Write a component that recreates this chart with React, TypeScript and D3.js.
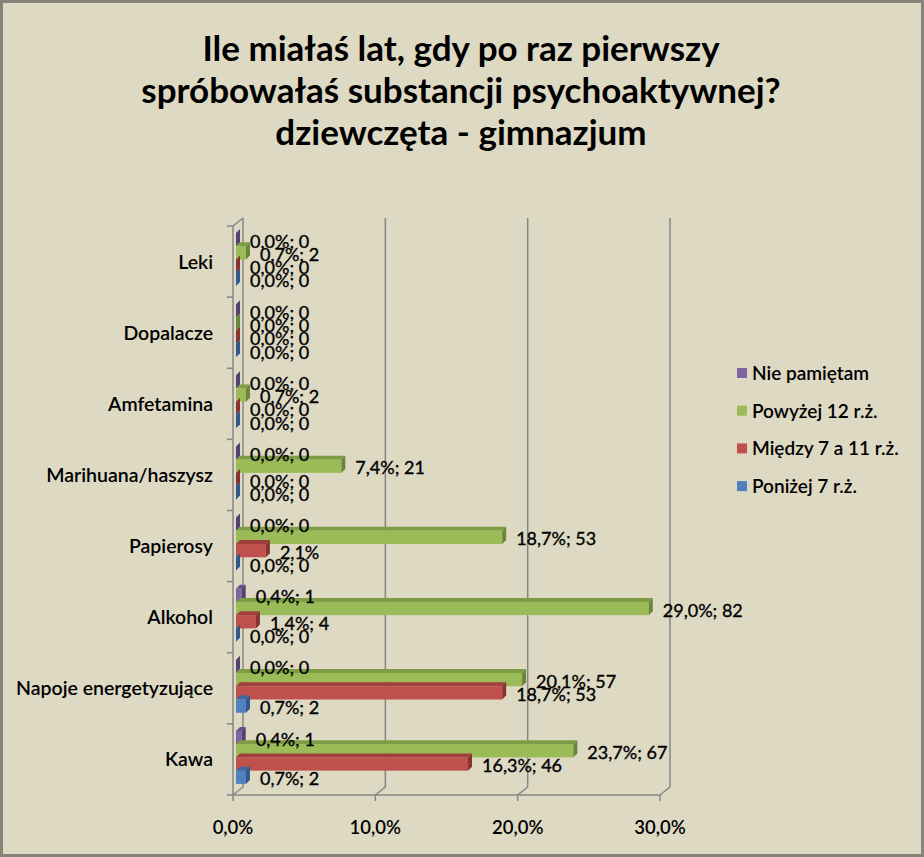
import React, { useEffect } from 'react';
import * as d3 from 'd3';

const W = 924;
const H = 857;

const titleLines = [
  'Ile miałaś lat, gdy po raz pierwszy',
  'spróbowałaś substancji psychoaktywnej?',
  'dziewczęta - gimnazjum',
];

const categories = [
  'Leki',
  'Dopalacze',
  'Amfetamina',
  'Marihuana/haszysz',
  'Papierosy',
  'Alkohol',
  'Napoje energetyzujące',
  'Kawa',
];

const seriesNames = ['Nie pamiętam', 'Powyżej 12 r.ż.', 'Między 7 a 11 r.ż.', 'Poniżej 7 r.ż.'];

// percent values per series, in category order
const niePamietamPct = [0.0, 0.0, 0.0, 0.0, 0.0, 0.4, 0.0, 0.4];
const niePamietamN = [0, 0, 0, 0, 0, 1, 0, 1];
const powyzej12Pct = [0.7, 0.0, 0.7, 7.4, 18.7, 29.0, 20.1, 23.7];
const powyzej12N = [2, 0, 2, 21, 53, 82, 57, 67];
const miedzy7a11Pct = [0.0, 0.0, 0.0, 0.0, 2.1, 1.4, 18.7, 16.3];
const miedzy7a11N = [0, 0, 0, 0, null, 4, 53, 46];
const ponizej7Pct = [0.0, 0.0, 0.0, 0.0, 0.0, 0.0, 0.7, 0.7];
const ponizej7N = [0, 0, 0, 0, 0, 0, 2, 2];

const xTicks = [0, 10, 20, 30];

const palette = [
  { front: '#8064a2', top: '#66508a', side: '#54416f' },
  { front: '#9bbb59', top: '#7e9c44', side: '#6a8638' },
  { front: '#c0504d', top: '#a03f3c', side: '#893331' },
  { front: '#4f81bd', top: '#3d69a0', side: '#32588a' },
];

const FONT = 'Lato, "Open Sans", sans-serif';
const fmt = (v: number) => v.toFixed(1).replace('.', ',') + '%';

export default function App() {
  useEffect(() => {
    document.body.style.margin = '0';
  }, []);

  const series = [
    { name: seriesNames[0], pct: niePamietamPct, n: niePamietamN },
    { name: seriesNames[1], pct: powyzej12Pct, n: powyzej12N },
    { name: seriesNames[2], pct: miedzy7a11Pct, n: miedzy7a11N },
    { name: seriesNames[3], pct: ponizej7Pct, n: ponizej7N },
  ];

  // front plane of the 3d plot
  const x = d3.scaleLinear().domain([0, 30]).range([233, 660]);
  const y = d3.scaleBand().domain(categories).range([226, 795]).paddingInner(0);
  const inner = d3.scaleBand().domain(seriesNames).range([7, 60]);
  const dx = 10; // wall depth
  const dy = -8;
  const bd = 4; // bar depth
  const bz = 3; // bar offset from front wall
  const wallTop = 218;
  const gridCol = '#868686';

  const bars: JSX.Element[] = [];
  const labels: JSX.Element[] = [];
  categories.forEach((c, ci) => {
    series.forEach((s, si) => {
      const v = s.pct[ci];
      const x0 = x(0) + bz;
      const x1 = x(v) + bz;
      const yt = (y(c) as number) + (inner(s.name) as number);
      const h = inner.bandwidth();
      const col = palette[si];
      bars.push(
        <g key={`b${ci}-${si}`}>
          <polygon
            points={`${x0},${yt} ${x0 + bd},${yt - bd} ${x1 + bd},${yt - bd} ${x1},${yt}`}
            fill={col.top}
          />
          <rect x={x0} y={yt} width={Math.max(0, x1 - x0)} height={h} fill={col.front} />
          <polygon
            points={`${x1},${yt} ${x1 + bd},${yt - bd} ${x1 + bd},${yt + h - bd} ${x1},${yt + h}`}
            fill={col.side}
          />
        </g>
      );
      const n = s.n[ci];
      const txt = n === null ? fmt(v) : `${fmt(v)}; ${n}`;
      labels.push(
        <text
          key={`l${ci}-${si}`}
          x={x(v) + 17}
          y={yt + h / 2 + 8}
          fontSize={18}
          fontFamily={FONT}
          fill="#000"
          stroke="#000"
          strokeWidth={0.35}
        >
          {txt}
        </text>
      );
    });
  });

  return (
    <div style={{ position: 'absolute', left: 0, top: 0 }}>
      <svg width={W} height={H} style={{ display: 'block' }}>
        <rect x={1.5} y={1.5} width={W - 3} height={H - 3} fill="#ddd9c3" stroke="#85847a" strokeWidth={3} />

        {titleLines.map((t, i) => (
          <text
            key={t}
            x={461}
            y={61 + i * 42}
            textAnchor="middle"
            fontSize={35}
            fontWeight={700}
            fontFamily={FONT}
            fill="#000"
          >
            {t}
          </text>
        ))}

        {/* back wall gridlines and floor lines */}
        {xTicks.map((t) => (
          <g key={`g${t}`} stroke={gridCol} strokeWidth={1.5} fill="none">
            <line x1={x(t) + dx} x2={x(t) + dx} y1={wallTop} y2={795 + dy} />
            <line x1={x(t)} y1={795} x2={x(t) + dx} y2={795 + dy} />
            <line x1={x(t)} x2={x(t)} y1={795} y2={801} />
          </g>
        ))}
        <g stroke={gridCol} strokeWidth={1.5} fill="none">
          <line x1={x(0)} x2={x(0)} y1={226} y2={795} />
          <line x1={x(0)} y1={226} x2={x(0) + dx} y2={wallTop} />
          <line x1={x(0)} x2={x(30)} y1={795} y2={795} />
          {[...categories.map((c) => y(c) as number), 795].map((v) => (
            <line key={`t${v}`} x1={x(0) - 6} x2={x(0)} y1={v} y2={v} />
          ))}
        </g>

        {bars}
        {labels}

        {categories.map((c) => (
          <text
            key={`c${c}`}
            x={213}
            y={(y(c) as number) + y.bandwidth() / 2 + 7}
            textAnchor="end"
            fontSize={19.5}
            fontWeight={600}
            fontFamily={FONT}
            fill="#000"
          >
            {c}
          </text>
        ))}

        {xTicks.map((t) => (
          <text
            key={`x${t}`}
            x={x(t)}
            y={834}
            textAnchor="middle"
            fontSize={18.5}
            fontWeight={600}
            fontFamily={FONT}
            fill="#000"
          >
            {fmt(t)}
          </text>
        ))}

        {seriesNames.map((s, i) => (
          <g key={`lg${s}`} transform={`translate(737, ${373 + i * 37.7})`}>
            <rect x={0} y={-5} width={10} height={10} fill={palette[i].front} />
            <text x={15} y={7} fontSize={19} fontWeight={600} fontFamily={FONT} fill="#000">
              {s}
            </text>
          </g>
        ))}
      </svg>
    </div>
  );
}
